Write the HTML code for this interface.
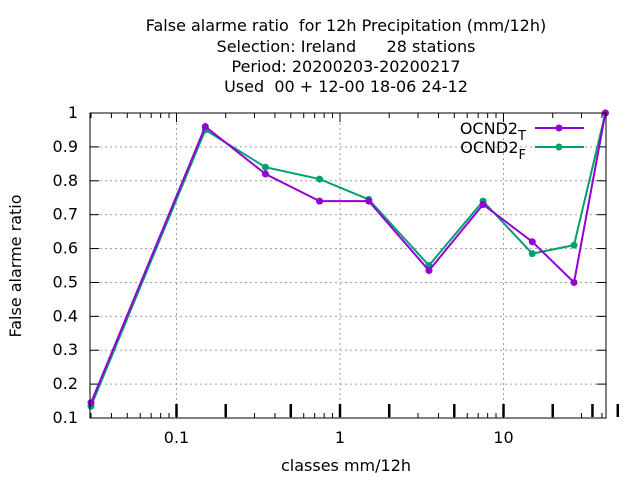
<!DOCTYPE html>
<html><head><meta charset="utf-8"><style>
body{margin:0;background:#fff;font-family:"DejaVu Sans",sans-serif;}
svg text{font-family:"DejaVu Sans",sans-serif;font-size:16px;fill:#000;white-space:pre;}
</style></head><body>
<svg id="chart" width="640" height="480" xml:space="preserve">
<g id="titles">
<text x="346" y="31" text-anchor="middle">False alarme ratio  for 12h Precipitation (mm/12h)</text>
<text x="346" y="52" text-anchor="middle">Selection: Ireland      28 stations</text>
<text x="346" y="72" text-anchor="middle">Period: 20200203-20200217</text>
<text x="346" y="92" text-anchor="middle">Used  00 + 12-00 18-06 24-12</text>
</g>
<text x="21" y="266" text-anchor="middle" transform="rotate(-90 21 266)">False alarme ratio</text>
<text x="346" y="471" text-anchor="middle">classes mm/12h</text>
<g id="axes"></g>
<g id="series"></g>
<rect x="90" y="113" width="516" height="305" fill="none" stroke="#000" stroke-width="1"/>
<g>
<text x="526" y="134" text-anchor="end">OCND2<tspan dy="6" font-size="13">T</tspan></text>
<line x1="535" y1="128" x2="584" y2="128" stroke="#9400d3" stroke-width="2"/>
<circle cx="559" cy="128" r="3.5" fill="#9400d3"/>
<text x="526" y="153" text-anchor="end">OCND2<tspan dy="6" font-size="13">F</tspan></text>
<line x1="535" y1="147" x2="584" y2="147" stroke="#009e73" stroke-width="2"/>
<circle cx="559" cy="147" r="3.5" fill="#009e73"/>
</g>
</svg>
<script>
const classes=[0.03,0.15,0.35,0.75,1.5,3.5,7.5,15,27,42];
const seriesT=[0.145,0.96,0.82,0.74,0.74,0.535,0.73,0.62,0.50,1.0];
const seriesF=[0.135,0.95,0.84,0.805,0.745,0.55,0.74,0.585,0.61,1.0];
const yTicks=[0.1,0.2,0.3,0.4,0.5,0.6,0.7,0.8,0.9,1];
const xTicks=[0.1,1,10];
const xTickLabels=["0.1","1","10"];
const boundaries=[0.1,0.2,0.5,1,2,5,10,20,35,50];
const NS='http://www.w3.org/2000/svg';
function X(v){return 340+Math.log10(v)*163.5;}
function Y(v){return 418-(v-0.1)/0.9*305;}
function mk(t,a,p){const e=document.createElementNS(NS,t);for(const k in a)e.setAttribute(k,a[k]);p.appendChild(e);return e;}
const ax=document.getElementById('axes');
yTicks.forEach(v=>{const y=Y(v);
 if(v>0.1&&v<1){const g=mk('line',{x1:90,x2:606,y1:y,y2:y,stroke:'#a0a0a0','stroke-dasharray':'2,3'},ax);}
 mk('line',{x1:90,x2:99,y1:y,y2:y,stroke:'#000'},ax);mk('line',{x1:597,x2:606,y1:y,y2:y,stroke:'#000'},ax);
 const t=mk('text',{x:78,y:y+5,'text-anchor':'end'},ax);t.textContent=String(v);
 });
xTicks.forEach((v,i)=>{const x=X(v);
 const g=mk('line',{x1:x,x2:x,y1:113,y2:418,stroke:'#a0a0a0','stroke-dasharray':'2,3'},ax);
 mk('line',{x1:x,x2:x,y1:409,y2:418,stroke:'#000'},ax);mk('line',{x1:x,x2:x,y1:113,y2:122,stroke:'#000'},ax);
 const t=mk('text',{x:x,y:443,'text-anchor':'middle'},ax);t.textContent=xTickLabels[i];
 });
[0.01,0.1,1,10].forEach(d=>{for(let k=2;k<10;k++){const x=X(d*k);if(x<90||x>606)continue;
 mk('line',{x1:x,x2:x,y1:413,y2:418,stroke:'#000'},ax);mk('line',{x1:x,x2:x,y1:113,y2:118,stroke:'#000'},ax);}});
boundaries.forEach(v=>{const x=X(v);const l=mk('line',{x1:x,x2:x,y1:404,y2:417,stroke:'#000','stroke-width':2.5},ax);
 });
const sg=document.getElementById('series');
function draw(vals,color,name){
 const pts=classes.map((c,i)=>X(c)+','+Y(vals[i])).join(' ');
 const pl=mk('polyline',{points:pts,fill:'none',stroke:color,'stroke-width':2},sg);
 
 classes.forEach((c,i)=>{const p=mk('circle',{cx:X(c),cy:Y(vals[i]),r:3.5,fill:color},sg);
  });
}
draw(seriesF,'#009e73','series-f');
draw(seriesT,'#9400d3','series-t');
</script>
</body></html>
